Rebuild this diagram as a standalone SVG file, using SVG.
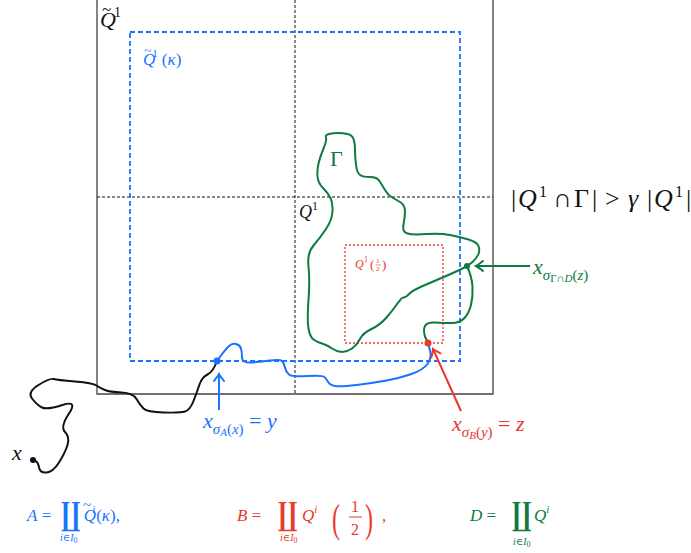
<svg xmlns="http://www.w3.org/2000/svg" width="691" height="553" viewBox="0 0 691 553">
<defs>
<style>
.m{font-family:"Liberation Serif","DejaVu Serif",serif;font-style:italic}
.r{font-family:"Liberation Serif","DejaVu Serif",serif;font-style:normal}
.cp{font-family:"DejaVu Serif",serif;font-style:normal;font-weight:bold}
.bl{fill:#1a73ff}.rd{fill:#e8392b}.gr{fill:#0e7a3f}.k{fill:#111}
.cur{fill:none;stroke-width:2;stroke-linejoin:round;stroke-linecap:round}
</style>
<marker id="ab" markerWidth="14" markerHeight="14" refX="0" refY="0" viewBox="-8 -7 10 14" orient="auto" markerUnits="userSpaceOnUse"><path d="M-7,-5 Q-2,-1 0,0 Q-2,1 -7,5" fill="none" stroke="#1a73ff" stroke-width="2" stroke-linecap="round"/></marker>
<marker id="ar" markerWidth="14" markerHeight="14" refX="0" refY="0" viewBox="-8 -7 10 14" orient="auto" markerUnits="userSpaceOnUse"><path d="M-7,-5 Q-2,-1 0,0 Q-2,1 -7,5" fill="none" stroke="#e8392b" stroke-width="2" stroke-linecap="round"/></marker>
<marker id="ag" markerWidth="14" markerHeight="14" refX="0" refY="0" viewBox="-8 -7 10 14" orient="auto" markerUnits="userSpaceOnUse"><path d="M-7,-5 Q-2,-1 0,0 Q-2,1 -7,5" fill="none" stroke="#0e7a3f" stroke-width="2" stroke-linecap="round"/></marker>
</defs>
<rect width="691" height="553" fill="#fff"/>
<g id="frame">
<path d="M97,0 V394 H493 V0" fill="none" stroke="#444" stroke-width="1.3"/>
<line x1="295" y1="0" x2="295" y2="394" stroke="#111" stroke-width="1" stroke-dasharray="3,2"/>
<line x1="97" y1="197" x2="493" y2="197" stroke="#111" stroke-width="1" stroke-dasharray="3,2"/>
</g>
<g id="blue-square"><rect x="130" y="32" width="330" height="329" fill="none" stroke="#1a73ff" stroke-width="1.8" stroke-dasharray="5,3"/></g>
<g id="red-square"><rect x="345" y="245" width="98" height="98" fill="none" stroke="#e8392b" stroke-width="1.3" stroke-dasharray="2,2"/></g>
<g id="gamma">
<path class="cur" stroke="#0e7a3f" d="M326,137.5 Q325,135 329,134 Q333,133 338,133 Q343,133 347.5,134 Q352,135 353.5,139 Q355,143 355,150 Q355,157 356,165 Q357,173 360,175 Q363,177 370,177 Q377,177 379.5,181 Q382,185 385,190 Q388,195 391.5,197 Q395,199 400,202 Q405,205 405,211 Q405,217 403.5,224.5 Q402,232 407.5,233.5 Q413,235 426.5,234 Q440,233 450,235 Q460,237 468.5,239.5 Q477,242 478.5,246 Q480,250 478.5,254 Q477,258 472.5,262 Q468,266 460.5,269.5 Q453,273 445,276.5 Q437,280 425,285 Q413,290 409,294 Q405,298 403.5,297.5 Q402,297 397.5,303.5 Q393,310 386.5,317.5 Q380,325 371.5,329 Q363,333 360,339 Q357,345 352,348.5 Q347,352 342,352 Q337,352 332,348.5 Q327,345 322,343.5 Q317,342 313.5,339.5 Q310,337 308.5,328.5 Q307,320 308.5,300 Q310,280 308.5,266.5 Q307,253 313.5,245.5 Q320,238 326,229 Q332,220 332.5,211.5 Q333,203 330.5,198 Q328,193 323,188 Q318,183 317.5,176.5 Q317,170 318.5,163.5 Q320,157 323.5,148.5 Q327,140 326,137.5 Z"/>
<path class="cur" stroke="#0e7a3f" d="M467,266 Q472,277 472.5,287 Q473,297 471,305 Q469,313 464.5,318 Q460,323 451.5,323 Q443,323 435,322.5 Q427,322 425,326 Q423,330 425,336.5 L428,343"/>
<circle cx="467" cy="266" r="3" fill="#0e7a3f"/>
</g>
<g id="paths">
<path class="cur" stroke="#1a73ff" d="M217,361 L221,355.5 Q225,350 228.5,346.5 Q232,343 236,344 Q240,345 241,348.5 Q242,352 242,357.5 Q242,363 251,362.5 Q260,362 270,360.5 Q280,359 282,361 Q284,363 285,367.5 Q286,372 289,374.5 Q292,377 307.5,376 Q323,375 325,377.5 Q327,380 328.5,382.5 Q330,385 335,386 Q340,387 356.5,385 Q373,383 386.5,380.5 Q400,378 411.5,374 Q423,370 427.5,364 Q432,358 430,350.5 L428,343"/>
<path class="cur" stroke="#111" d="M217,361 Q213,372 207.5,374.5 Q202,377 199.5,384.5 Q197,392 193.5,401 Q190,410 185,411.5 Q180,413 163.5,412.5 Q147,412 143.5,408.5 Q140,405 136.5,399 Q133,393 121.5,392.5 Q110,392 105,390 Q100,388 96.5,385.5 Q93,383 75,381.5 Q57,380 53.5,379 Q50,378 38.5,385 Q27,392 32,398.5 Q37,405 42,407.5 Q47,410 62.5,405 Q78,400 69,413.5 Q60,427 65,432 Q70,437 67.5,445 Q65,453 59,462.5 Q53,472 46.5,472.5 Q40,473 39,467.5 Q38,462 35.5,461 L33,460"/>
<circle cx="217" cy="361" r="3.5" fill="#1a73ff"/>
<circle cx="428" cy="343" r="3.5" fill="#e8392b"/>
<circle cx="33" cy="460" r="3" fill="#111"/>
</g>
<g id="connectors">
<line x1="219" y1="410" x2="219" y2="374" stroke="#1a73ff" stroke-width="2" marker-end="url(#ab)"/>
<line x1="530" y1="266" x2="476" y2="266" stroke="#0e7a3f" stroke-width="2" marker-end="url(#ag)"/>
<line x1="461" y1="411" x2="433" y2="349" stroke="#e8392b" stroke-width="2" marker-end="url(#ar)"/>
</g>
<g id="labels">
<text class="k" x="100" y="27" font-size="22"><tspan class="m">Q</tspan><tspan class="r" font-size="17" dx="-14" dy="-12">~</tspan><tspan class="r" font-size="14" dx="3" dy="2">1</tspan></text>
<text class="bl" x="143" y="65" font-size="17"><tspan class="m">Q</tspan><tspan class="r" font-size="13" dx="-11" dy="-10">~</tspan><tspan class="r" font-size="11" dx="1" dy="2">1</tspan><tspan class="r" dx="4" dy="8">(</tspan><tspan class="m">κ</tspan><tspan class="r">)</tspan></text>
<text class="k" x="299" y="218" font-size="18"><tspan class="m">Q</tspan><tspan class="r" font-size="12" dy="-8">1</tspan></text>
<text class="r gr" x="330" y="166" font-size="22">Γ</text>
<text class="m rd" x="355" y="268" font-size="12">Q</text><text class="r rd" x="364" y="262" font-size="8">1</text><text class="r rd" x="370" y="269" font-size="13">(</text><text class="r rd" x="376" y="263" font-size="7">1</text><line x1="375.5" y1="265" x2="381" y2="265" stroke="#e8392b" stroke-width="0.6"/><text class="r rd" x="376" y="271" font-size="7">2</text><text class="r rd" x="382" y="269" font-size="13">)</text>
<text class="k" y="207" font-size="26"><tspan class="r" x="511">|</tspan><tspan class="m" x="518">Q</tspan><tspan class="r" x="539" font-size="16" dy="-10">1</tspan><tspan class="r" x="553" dy="10">∩</tspan><tspan class="r" x="574">Γ</tspan><tspan class="r" x="592">|</tspan><tspan class="r" x="605">&gt;</tspan><tspan class="m" x="628">γ</tspan><tspan class="r" x="647">|</tspan><tspan class="m" x="654">Q</tspan><tspan class="r" x="675" font-size="16" dy="-10">1</tspan><tspan class="r" x="686" dy="10">|</tspan></text>
<text class="gr" x="533" y="274" font-size="22"><tspan class="m">x</tspan><tspan class="m" font-size="15" dy="6">σ</tspan><tspan class="r" font-size="11" dy="2">Γ∩</tspan><tspan class="m" font-size="11">D</tspan><tspan class="r" font-size="15" dy="-2">(</tspan><tspan class="m" font-size="15">z</tspan><tspan class="r" font-size="15">)</tspan></text>
<text class="bl" x="203" y="428" font-size="22"><tspan class="m">x</tspan><tspan class="m" font-size="15" dy="6">σ</tspan><tspan class="m" font-size="11" dy="2">A</tspan><tspan class="r" font-size="15" dy="-2">(</tspan><tspan class="m" font-size="15">x</tspan><tspan class="r" font-size="15">)</tspan><tspan class="r" dy="-6"> = </tspan><tspan class="m">y</tspan></text>
<text class="rd" x="452" y="431" font-size="22"><tspan class="m">x</tspan><tspan class="m" font-size="15" dy="6">σ</tspan><tspan class="m" font-size="11" dy="2">B</tspan><tspan class="r" font-size="15" dy="-2">(</tspan><tspan class="m" font-size="15">y</tspan><tspan class="r" font-size="15">)</tspan><tspan class="r" dy="-6"> = </tspan><tspan class="m">z</tspan></text>
<text class="m k" x="12" y="460" font-size="22">x</text>
</g>
<g id="formulas">
<text class="bl" x="27" y="521" font-size="17"><tspan class="m">A</tspan><tspan class="r"> =</tspan></text>
<text class="cp bl" x="0" y="0" font-size="32" transform="translate(61,525) scale(0.72,1)">∐</text>
<text class="bl" x="60" y="541" font-size="10"><tspan class="m">i</tspan><tspan class="r">∈</tspan><tspan class="m">I</tspan><tspan class="r" font-size="8" dy="2">0</tspan></text>
<text class="bl" x="83" y="521" font-size="17"><tspan class="m">Q</tspan><tspan class="r" font-size="15" dx="-13" dy="-11">~</tspan><tspan class="m" font-size="11" dx="1" dy="3">i</tspan><tspan class="r" dx="1" dy="8">(</tspan><tspan class="m">κ</tspan><tspan class="r">),</tspan></text>
<text class="rd" x="237" y="521" font-size="17"><tspan class="m">B</tspan><tspan class="r"> =</tspan></text>
<text class="cp rd" x="0" y="0" font-size="32" transform="translate(278,525) scale(0.72,1)">∐</text>
<text class="rd" x="280" y="541" font-size="10"><tspan class="m">i</tspan><tspan class="r">∈</tspan><tspan class="m">I</tspan><tspan class="r" font-size="8" dy="2">0</tspan></text>
<text class="rd" x="302" y="521" font-size="17"><tspan class="m">Q</tspan><tspan class="m" font-size="11" dy="-8">i</tspan></text>
<text class="r rd" x="0" y="0" font-size="40" transform="translate(332,532) scale(0.6,1)">(</text>
<text class="r rd" x="351" y="512" font-size="16">1</text><line x1="349" y1="517" x2="362" y2="517" stroke="#e8392b" stroke-width="1"/><text class="r rd" x="351" y="535" font-size="16">2</text>
<text class="r rd" x="0" y="0" font-size="40" transform="translate(365,532) scale(0.6,1)">)</text>
<text class="r rd" x="382" y="521" font-size="17">,</text>
<text class="gr" x="470" y="521" font-size="17"><tspan class="m">D</tspan><tspan class="r"> =</tspan></text>
<text class="cp gr" x="0" y="0" font-size="32" transform="translate(512,525) scale(0.72,1)">∐</text>
<text class="gr" x="513" y="545" font-size="10"><tspan class="m">i</tspan><tspan class="r">∈</tspan><tspan class="m">I</tspan><tspan class="r" font-size="8" dy="2">0</tspan></text>
<text class="gr" x="534" y="521" font-size="17"><tspan class="m">Q</tspan><tspan class="m" font-size="11" dy="-8">i</tspan></text>
</g>
</svg>
